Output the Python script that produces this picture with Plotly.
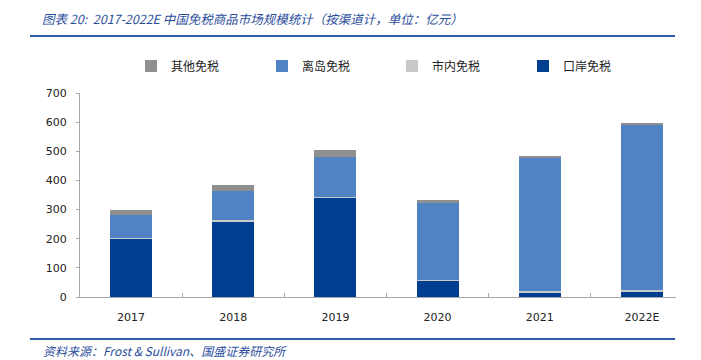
import plotly.graph_objects as go

years = ["2017", "2018", "2019", "2020", "2021", "2022E"]
kouan = [200, 260, 340, 55, 17, 20]      # 口岸免税
shinei = [2, 3, 2, 4, 4, 3]              # 市内免税
lidao = [78, 100, 138, 265, 458, 567]    # 离岛免税
qita = [20, 20, 24, 8, 5, 7]             # 其他免税

series = [
    ("口岸免税", kouan, "#003E92", "legend4"),
    ("市内免税", shinei, "#C9C9C9", "legend3"),
    ("离岛免税", lidao, "#4F83C4", "legend2"),
    ("其他免税", qita, "#8F8F8F", "legend"),
]

fig = go.Figure()
for name, vals, color, lg in series:
    fig.add_trace(go.Bar(x=years, y=vals, name=name, marker=dict(color=color, line=dict(width=0)),
                         width=0.41, legend=lg))

L, R, T, B = 80, 676, 93, 297
PW, PH = R - L, B - T

def px(x):
    return (x - L) / PW

def py(y):
    return (B - y) / PH

blue_txt = "#2B4E9C"
leg_font = dict(family="Noto Sans CJK SC", size=12, color="#222222")

def leg(xpix):
    return dict(x=px(xpix), y=py(66), xanchor="left", yanchor="middle", itemwidth=30,
                font=leg_font, bgcolor="rgba(0,0,0,0)")

fig.update_layout(
    width=701, height=360,
    margin=dict(l=L, r=701 - R, t=T, b=360 - B, autoexpand=False),
    paper_bgcolor="white", plot_bgcolor="white",
    barmode="stack",
    font=dict(family="DejaVu Sans", size=11, color="#222222"),
    showlegend=True,
    legend=leg(131), legend2=leg(262), legend3=leg(392), legend4=leg(523),
    xaxis=dict(range=[-0.5, 5.334], showline=True, linecolor="#A6A6A6", linewidth=1,
               ticks="inside", ticklen=4, tickcolor="#A6A6A6", tickson="boundaries",
               showgrid=False, ticklabelstandoff=10, fixedrange=True),
    yaxis=dict(range=[0, 700], tickvals=[0, 100, 200, 300, 400, 500, 600, 700],
               showline=True, linecolor="#A6A6A6", linewidth=1, ticks="outside", ticklen=3,
               tickcolor="#A6A6A6", showgrid=False, zeroline=False, ticklabelstandoff=7,
               fixedrange=True),
    shapes=[
        dict(type="line", xref="paper", yref="paper", x0=px(30), x1=px(675), y0=py(36), y1=py(36),
             line=dict(color="#2E5CA8", width=2)),
        dict(type="line", xref="paper", yref="paper", x0=px(30), x1=px(675), y0=py(339), y1=py(339),
             line=dict(color="#2E5CA8", width=2)),
    ],
    annotations=[
        dict(text="<i>图表 20:  2017-2022E 中国免税商品市场规模统计（按渠道计，单位：亿元）</i>",
             xref="paper", yref="paper", x=px(40), y=py(19), xanchor="left", yanchor="middle",
             showarrow=False, font=dict(family="Noto Sans CJK SC", size=12.5, color=blue_txt)),
        dict(text="<i>资料来源：Frost &amp; Sullivan、国盛证券研究所</i>",
             xref="paper", yref="paper", x=px(41), y=py(350), xanchor="left", yanchor="middle",
             showarrow=False, font=dict(family="Noto Sans CJK SC", size=12, color=blue_txt)),
    ],
)

fig.write_html("out.html", config={"displayModeBar": False},
               post_script="document.body.style.margin='0';document.body.style.overflow='hidden';")
